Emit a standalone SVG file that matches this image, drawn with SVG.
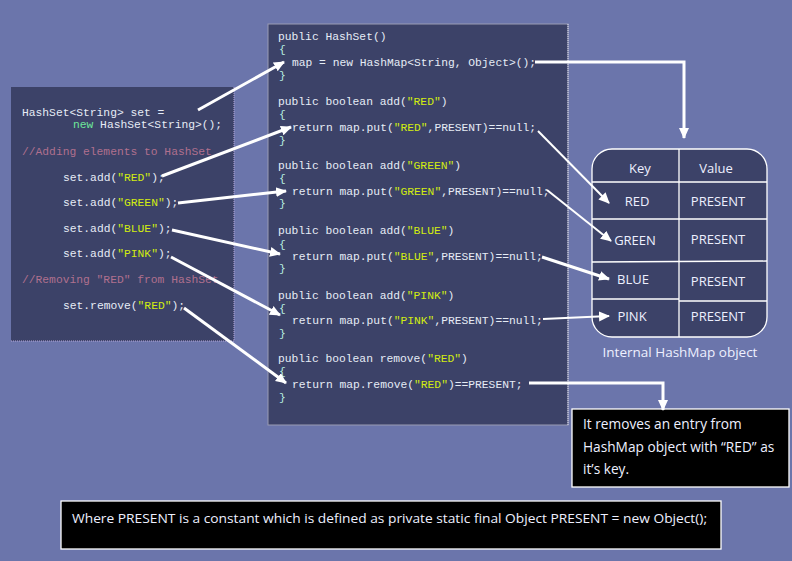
<svg xmlns="http://www.w3.org/2000/svg" width="792" height="561" viewBox="0 0 792 561">
<defs>
<style>
.bg{fill:#6b75ab}
.panel{fill:#3c4268}
.code{font-family:"Liberation Mono","DejaVu Sans Mono",monospace;font-size:11.3px;fill:#e6ecf6}
.s{fill:#d2ec10}
.kw{fill:#6ee89a}
.cm{fill:#b0708e}
.br{fill:#b8eee0}
.sans{font-family:"Open Sans","Noto Sans","Liberation Sans",sans-serif}
.tbl{font-size:13px;fill:#eef0ff;text-anchor:middle}
.conn{stroke:#ffffff;stroke-width:3;fill:none}
.thin{stroke-width:2}
.grid{stroke:#ffffff;stroke-width:1.3}
.callout{fill:#000000;stroke:#ffffff;stroke-width:1.3}
.ctext{font-size:13.7px;fill:#eef0ff}
</style>
<marker id="ah" markerUnits="userSpaceOnUse" markerWidth="12" markerHeight="12" refX="10" refY="6" orient="auto">
<path d="M0,1 L11,6 L0,11 Z" fill="#ffffff"/>
</marker>
</defs>
<rect class="bg" x="0" y="0" width="792" height="561"/>

<g id="hashset-usage">
<rect class="panel" x="11" y="87" width="223" height="254"/>
<path d="M234,87 V341 H11" fill="none" stroke="#b8a8d8" stroke-width="1" stroke-dasharray="1,1"/>
<text class="code" x="22" y="116">HashSet&lt;String&gt; set =</text>
<text class="code" x="73" y="128"><tspan class="kw">new</tspan> HashSet&lt;String&gt;();</text>
<text class="code cm" x="22" y="155">//Adding elements to HashSet</text>
<text class="code" x="63" y="181">set.add(<tspan class="s">"RED"</tspan>);</text>
<text class="code" x="63" y="206">set.add(<tspan class="s">"GREEN"</tspan>);</text>
<text class="code" x="63" y="232">set.add(<tspan class="s">"BLUE"</tspan>);</text>
<text class="code" x="63" y="257">set.add(<tspan class="s">"PINK"</tspan>);</text>
<text class="code cm" x="22" y="283">//Removing "RED" from HashSet</text>
<text class="code" x="63" y="309">set.remove(<tspan class="s">"RED"</tspan>);</text>
</g>

<g id="hashset-source">
<rect class="panel" x="268" y="24" width="300" height="401" stroke="#9a9cb4" stroke-width="1"/>
<path d="M568,24 V425" fill="none" stroke="#e0e0f0" stroke-width="1" stroke-dasharray="1,1"/>
<text class="code" x="278" y="40">public HashSet()</text>
<text class="code br" x="279" y="53">{</text>
<text class="code" x="292" y="66">map = new HashMap&lt;String, Object&gt;();</text>
<text class="code br" x="279" y="79">}</text>

<text class="code" x="278" y="105">public boolean add(<tspan class="s">"RED"</tspan>)</text>
<text class="code br" x="279" y="118">{</text>
<text class="code" x="292" y="131">return map.put(<tspan class="s">"RED"</tspan>,PRESENT)==null;</text>
<text class="code br" x="279" y="144">}</text>

<text class="code" x="278" y="169">public boolean add(<tspan class="s">"GREEN"</tspan>)</text>
<text class="code br" x="279" y="182">{</text>
<text class="code" x="292" y="195">return map.put(<tspan class="s">"GREEN"</tspan>,PRESENT)==null;</text>
<text class="code br" x="279" y="207">}</text>

<text class="code" x="278" y="234">public boolean add(<tspan class="s">"BLUE"</tspan>)</text>
<text class="code br" x="279" y="248">{</text>
<text class="code" x="292" y="260">return map.put(<tspan class="s">"BLUE"</tspan>,PRESENT)==null;</text>
<text class="code br" x="279" y="272">}</text>

<text class="code" x="278" y="299">public boolean add(<tspan class="s">"PINK"</tspan>)</text>
<text class="code br" x="279" y="312">{</text>
<text class="code" x="292" y="324">return map.put(<tspan class="s">"PINK"</tspan>,PRESENT)==null;</text>
<text class="code br" x="279" y="337">}</text>

<text class="code" x="278" y="362">public boolean remove(<tspan class="s">"RED"</tspan>)</text>
<text class="code br" x="279" y="375">{</text>
<text class="code" x="292" y="388">return map.remove(<tspan class="s">"RED"</tspan>)==PRESENT;</text>
<text class="code br" x="279" y="401">}</text>
</g>

<g id="internal-hashmap">
<rect class="panel" x="592" y="149" width="175" height="188" rx="20" ry="20" stroke="#ffffff" stroke-width="1.3"/>
<line class="grid" x1="679" y1="149" x2="679" y2="337"/>
<line class="grid" x1="592" y1="182" x2="767" y2="182"/>
<line class="grid" x1="592" y1="219" x2="767" y2="219"/>
<line class="grid" x1="592" y1="262" x2="767" y2="261"/>
<line class="grid" x1="592" y1="299" x2="679" y2="299"/>
<line class="grid" x1="679" y1="301" x2="767" y2="301"/>
<text class="sans tbl" x="640" y="173">Key</text>
<text class="sans tbl" x="716" y="173">Value</text>
<text class="sans tbl" x="637" y="206">RED</text>
<text class="sans tbl" x="718" y="206">PRESENT</text>
<text class="sans tbl" x="635" y="245">GREEN</text>
<text class="sans tbl" x="718" y="244">PRESENT</text>
<text class="sans tbl" x="633" y="284">BLUE</text>
<text class="sans tbl" x="718" y="286">PRESENT</text>
<text class="sans tbl" x="632" y="321">PINK</text>
<text class="sans tbl" x="718" y="321">PRESENT</text>
<text class="sans tbl" x="680" y="357" style="font-size:13.5px">Internal HashMap object</text>
</g>

<g id="remove-note">
<rect class="callout" x="572" y="409" width="217" height="78"/>
<text class="sans ctext" x="583" y="429">It removes an entry from</text>
<text class="sans ctext" x="583" y="452">HashMap object with “RED” as</text>
<text class="sans ctext" x="583" y="474">it’s key.</text>
</g>

<g id="present-note">
<rect class="callout" x="61" y="501" width="660" height="48"/>
<text class="sans ctext" x="72" y="523" style="font-size:13px" textLength="635" lengthAdjust="spacingAndGlyphs">Where PRESENT is a constant which is defined as private static final Object PRESENT = new Object();</text>
</g>

<g id="connectors">
<path class="conn" d="M198,110 L284,62" marker-end="url(#ah)"/>
<path class="conn" d="M162,176 L291,127" marker-end="url(#ah)"/>
<path class="conn" d="M178,203 L286,191" marker-end="url(#ah)"/>
<path class="conn" d="M172,230 L280,254" marker-end="url(#ah)"/>
<path class="conn" d="M171,257 L280,315" marker-end="url(#ah)"/>
<path class="conn" d="M184,308 L286,383" marker-end="url(#ah)"/>
<path class="conn" d="M535,62 H684 V138" marker-end="url(#ah)"/>
<path class="conn thin" d="M538,131 L609,203" marker-end="url(#ah)"/>
<path class="conn thin" d="M547,190 L611,241" marker-end="url(#ah)"/>
<path class="conn" d="M542,257 L609,279" marker-end="url(#ah)"/>
<path class="conn thin" d="M543,319 L609,316" marker-end="url(#ah)"/>
<path class="conn" d="M529,383 H663 V410" marker-end="url(#ah)"/>
</g>
</svg>
